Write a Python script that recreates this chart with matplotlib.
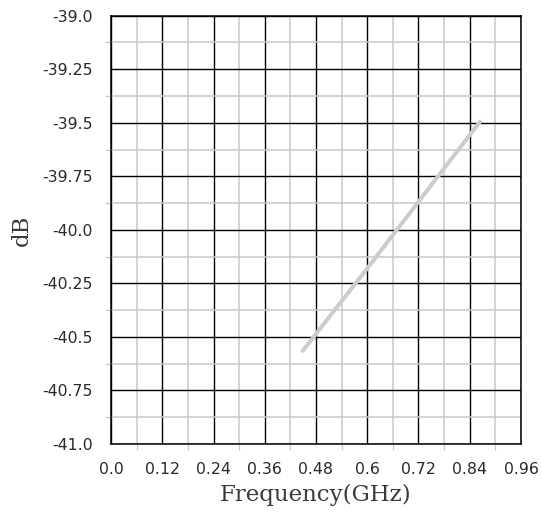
import numpy as np
import matplotlib
matplotlib.use('agg')
import matplotlib.pyplot as plt
from matplotlib.ticker import MultipleLocator

# data
freq = [0.449, 0.60, 0.864]
db = [-40.565, -40.18, -39.495]

xticks = [0.0, 0.12, 0.24, 0.36, 0.48, 0.6, 0.72, 0.84, 0.96]
xtick_labels = ['0.0', '0.12', '0.24', '0.36', '0.48', '0.6', '0.72', '0.84', '0.96']
yticks = [-41.0, -40.75, -40.5, -40.25, -40.0, -39.75, -39.5, -39.25, -39.0]
ytick_labels = ['-41.0', '-40.75', '-40.5', '-40.25', '-40.0', '-39.75', '-39.5', '-39.25', '-39.0']

fig = plt.figure(figsize=(5.41, 5.15), dpi=100)
ax = fig.add_axes([0.2052, 0.1379, 0.7578, 0.8316])

ax.plot(freq, db, color='#cccccc', lw=2.9, solid_capstyle='round', zorder=3)

ax.set_xlim(0, 0.96)
ax.set_ylim(-41, -39)
ax.set_xticks(xticks)
ax.set_xticklabels(xtick_labels)
ax.set_yticks(yticks)
ax.set_yticklabels(ytick_labels)
ax.xaxis.set_minor_locator(MultipleLocator(0.06))
ax.yaxis.set_minor_locator(MultipleLocator(0.125))

ax.grid(which='minor', color='#c8c8c8', lw=1.1, zorder=1)
ax.grid(which='major', color='black', lw=1.0, zorder=2)
ax.set_axisbelow(True)

ax.tick_params(which='major', length=0, pad=13, labelsize=11.3, labelcolor='#2a2a2a')
ax.tick_params(which='minor', length=4.5, width=0.9, color='#c8c8c8', direction='out')
for s in ax.spines.values():
    s.set_color('black')
    s.set_linewidth(1.1)

ax.set_xlabel('Frequency(GHz)', family='DejaVu Serif', fontsize=16.5, color='#3a3a3a', labelpad=5)
ax.set_ylabel('dB', family='DejaVu Serif', fontsize=16.5, color='#3a3a3a', labelpad=7)

plt.savefig('out.png', dpi=100)
